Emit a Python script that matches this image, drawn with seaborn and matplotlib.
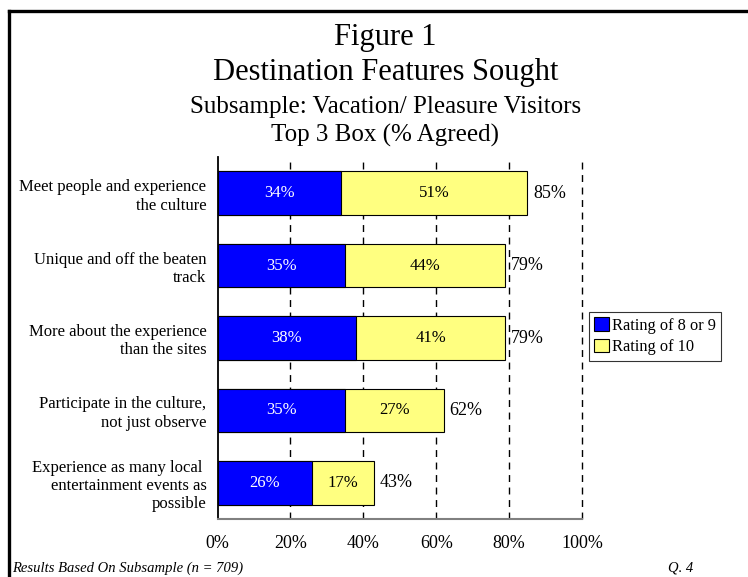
import matplotlib
matplotlib.use("Agg")
import matplotlib.pyplot as plt
import seaborn as sns
import pandas as pd
from matplotlib.patches import Patch
from matplotlib.lines import Line2D

categories = [
    "Meet people and experience\nthe culture",
    "Unique and off the beaten\ntrack",
    "More about the experience\nthan the sites",
    "Participate in the culture,\nnot just observe",
    "Experience as many local \nentertainment events as\npossible",
]
rating_8_9 = [34, 35, 38, 35, 26]
rating_10 = [51, 44, 41, 27, 17]
totals = [85, 79, 79, 62, 43]
series_names = ["Rating of 8 or 9", "Rating of 10"]
xticks = [0, 20, 40, 60, 80, 100]
xtick_labels = ["0%", "20%", "40%", "60%", "80%", "100%"]

blue = "#0000FF"
yellow = "#FFFF80"

sns.set_style("white")
plt.rcParams["font.family"] = ["Liberation Serif", "DejaVu Serif"]
plt.rcParams["text.color"] = "black"
plt.rcParams["axes.labelcolor"] = "black"
plt.rcParams["xtick.color"] = "black"
plt.rcParams["ytick.color"] = "black"

df = pd.DataFrame({"cat": categories, "b": rating_8_9, "y": rating_10, "t": totals})

fig = plt.figure(figsize=(7.48, 5.77), dpi=100)
ax = fig.add_axes([0.2908, 0.1005, 0.4873, 0.6274])

# gridlines behind bars
for xv in xticks[1:]:
    ax.axvline(xv, color="black", lw=1.0, ls=(0, (5, 4)), zorder=0, clip_on=False)

sns.barplot(data=df, x="t", y="cat", orient="h", color=yellow, saturation=1,
            width=0.6, edgecolor="black", linewidth=0.8, ax=ax, zorder=2)
sns.barplot(data=df, x="b", y="cat", orient="h", color=blue, saturation=1,
            width=0.6, edgecolor="black", linewidth=0.8, ax=ax, zorder=3)

for i, (b, y, t) in enumerate(zip(rating_8_9, rating_10, totals)):
    ax.text(b / 2, i, f"{b}%", ha="center", va="center", color="white", fontsize=12, zorder=5)
    ax.text(b + y / 2, i, f"{y}%", ha="center", va="center", color="black", fontsize=12, zorder=5)
    ax.annotate(f"{t}%", xy=(t, i), xytext=(4, 0), textcoords="offset points",
                ha="left", va="center", fontsize=13, color="black", zorder=5)

ax.set_xlim(0, 100)
ax.set_ylim(4.5, -0.5)
ax.set_xticks(xticks)
ax.set_xticklabels(xtick_labels, fontsize=13)
ax.set_xlabel("")
ax.set_ylabel("")
ax.tick_params(axis="x", direction="inout", length=7, width=1, color="black", pad=8,
               labelcolor="black")
ax.tick_params(axis="y", length=0, pad=8, labelcolor="black")
for lab in ax.get_yticklabels():
    lab.set_fontsize(12)
    lab.set_linespacing(1.2)
    lab.set_horizontalalignment("right")
    lab.set_multialignment("right")

for s in ["top", "right"]:
    ax.spines[s].set_visible(False)
ax.spines["left"].set_color("black")
ax.spines["left"].set_linewidth(1.3)
ax.spines["bottom"].set_color("#808080")
ax.spines["bottom"].set_linewidth(1.5)

handles = [Patch(facecolor=blue, edgecolor="black", lw=0.8),
           Patch(facecolor=yellow, edgecolor="black", lw=0.8)]
leg = fig.legend(handles, series_names, loc="upper left", bbox_to_anchor=(0.787, 0.46),
                 fontsize=11.8, frameon=True, fancybox=False, shadow=False,
                 handlelength=0.9, handleheight=0.9, handletextpad=0.15,
                 borderpad=0.35, labelspacing=0.3, borderaxespad=0)
leg.get_frame().set_edgecolor("black")
leg.get_frame().set_linewidth(0.8)
for t in leg.get_texts():
    t.set_color("black")

# titles
fig.text(0.515, 1 - 37 / 577, "Figure 1", ha="center", va="center", fontsize=22)
fig.text(0.515, 1 - 72 / 577, "Destination Features Sought", ha="center", va="center", fontsize=22)
fig.text(0.515, 1 - 107 / 577, "Subsample: Vacation/ Pleasure Visitors", ha="center", va="center", fontsize=18)
fig.text(0.515, 1 - 135 / 577, "Top 3 Box (% Agreed)", ha="center", va="center", fontsize=18)

# footer
fig.text(12 / 748, 1 - 568 / 577, "Results Based On Subsample (n = 709)", ha="left", va="center",
         fontsize=10.5, style="italic")
fig.text(668 / 748, 1 - 568 / 577, "Q. 4", ha="left", va="center", fontsize=10.5, style="italic")

# figure frame (left and top edges)
fig.add_artist(Line2D([8.5 / 748, 8.5 / 748], [0, 1 - 10.5 / 577], transform=fig.transFigure,
                      color="black", lw=2.4, solid_capstyle="projecting"))
fig.add_artist(Line2D([8.5 / 748, 1], [1 - 10.5 / 577, 1 - 10.5 / 577], transform=fig.transFigure,
                      color="black", lw=2.4, solid_capstyle="projecting"))

fig.savefig("out.png", dpi=100)
